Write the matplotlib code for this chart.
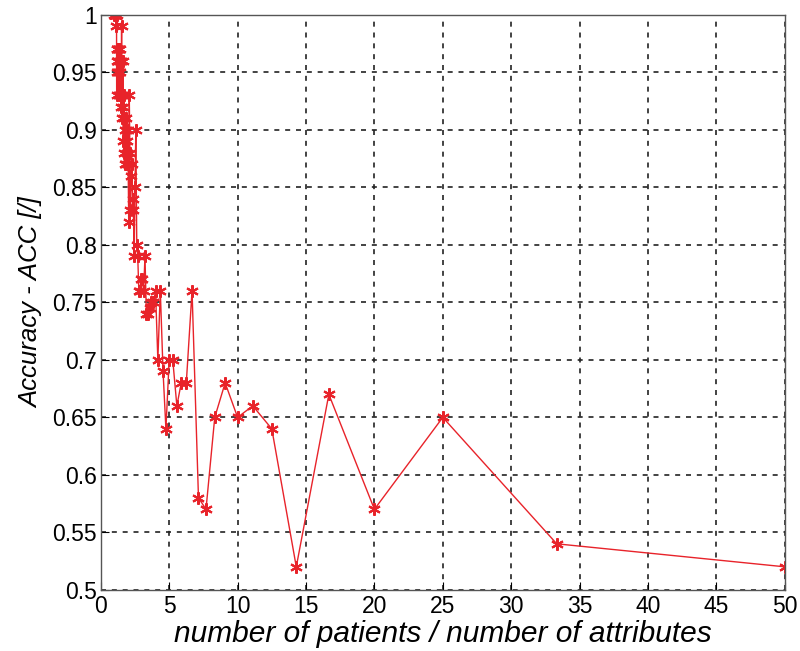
import matplotlib
matplotlib.use("Agg")
import matplotlib.pyplot as plt

ratio = [1.00, 1.01, 1.02, 1.03, 1.04, 1.05, 1.06, 1.08, 1.09, 1.10,
         1.11, 1.12, 1.14, 1.15, 1.16, 1.18, 1.19, 1.20, 1.22, 1.23,
         1.25, 1.27, 1.28, 1.30, 1.32, 1.33, 1.35, 1.37, 1.39, 1.41,
         1.43, 1.45, 1.47, 1.49, 1.52, 1.54, 1.56, 1.59, 1.61, 1.64,
         1.67, 1.69, 1.72, 1.75, 1.79, 1.82, 1.85, 1.89, 1.92, 1.96,
         2.00, 2.04, 2.08, 2.13, 2.17, 2.22, 2.27, 2.33, 2.38, 2.44,
         2.50, 2.56, 2.63, 2.70, 2.78, 2.86, 2.94, 3.03, 3.13, 3.23,
         3.33, 3.45, 3.57, 3.70, 3.85, 4.00, 4.17, 4.35, 4.55, 4.76,
         5.00, 5.26, 5.56, 5.88, 6.25, 6.67, 7.14, 7.69, 8.33, 9.09,
         10.00, 11.11, 12.50, 14.29, 16.67, 20.00, 25.00, 33.33, 50.00]

accuracy = [1.00, 1.00, 1.00, 1.00, 1.00, 1.00, 1.00, 1.00, 1.00, 1.00,
            1.00, 1.00, 0.99, 1.00, 0.93, 0.95, 0.97, 0.96, 0.97, 0.95,
            0.96, 0.97, 0.96, 0.93, 0.97, 0.95, 0.97, 0.96, 0.97, 0.93,
            0.95, 0.96, 0.93, 0.92, 0.99, 0.91, 0.93, 0.92, 0.96, 0.89,
            0.91, 0.93, 0.88, 0.87, 0.90, 0.91, 0.87, 0.89, 0.88, 0.90,
            0.87, 0.82, 0.93, 0.88, 0.83, 0.86, 0.87, 0.84, 0.83, 0.79,
            0.85, 0.90, 0.80, 0.79, 0.76, 0.76, 0.77, 0.77, 0.76, 0.79,
            0.74, 0.74, 0.745, 0.75, 0.75, 0.76, 0.70, 0.76, 0.69, 0.64,
            0.70, 0.70, 0.66, 0.68, 0.68, 0.76, 0.58, 0.57, 0.65, 0.68,
            0.65, 0.66, 0.64, 0.52, 0.67, 0.57, 0.65, 0.54, 0.52]

x_ticks = [0, 5, 10, 15, 20, 25, 30, 35, 40, 45, 50]
y_ticks = [0.5, 0.55, 0.6, 0.65, 0.7, 0.75, 0.8, 0.85, 0.9, 0.95, 1.0]
y_ticklabels = ["0.5", "0.55", "0.6", "0.65", "0.7", "0.75", "0.8", "0.85", "0.9", "0.95", "1"]

plt.rcParams["font.family"] = ["Liberation Sans", "DejaVu Sans"]

fig = plt.figure(figsize=(8.0, 6.51), dpi=100)
ax = fig.add_axes([0.126, 0.094, 0.855, 0.883])

ax.plot(ratio, accuracy, color="#e8232a", linewidth=1.0,
        marker=(6, 2, 0), markersize=9, markeredgewidth=1.5,
        markeredgecolor="#e8232a", markerfacecolor="#e8232a")

ax.set_xlim(0, 50)
ax.set_ylim(0.5, 1.0)
ax.set_xticks(x_ticks)
ax.set_yticks(y_ticks)
ax.set_yticklabels(y_ticklabels)
ax.tick_params(direction="in", length=6, labelsize=16.5, colors="black", width=0.8)
ax.tick_params(axis="y", pad=3)
ax.tick_params(axis="x", pad=4)
ax.grid(True, color="#222222", linestyle=(0, (3, 3.5)), linewidth=1.2)
for s in ax.spines.values():
    s.set_color("#555555")
    s.set_linewidth(1.0)

ax.set_xlabel("number of patients / number of attributes", fontsize=21.5, style="italic", labelpad=1)
ax.set_ylabel("Accuracy - ACC [/]", fontsize=18.5, style="italic", labelpad=6)

fig.savefig("out.png", dpi=100)
